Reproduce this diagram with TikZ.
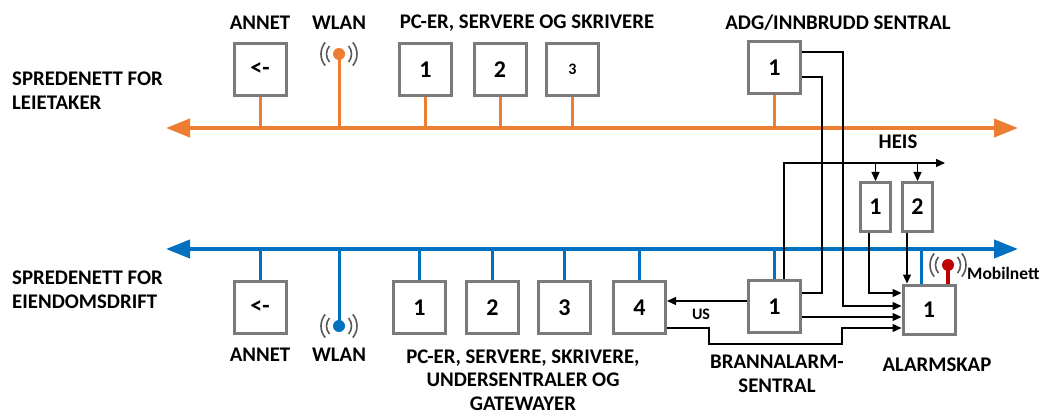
\documentclass[tikz,border=0pt]{standalone}
\usepackage{fontspec}
\setmainfont{Carlito}
\usetikzlibrary{arrows.meta}
\definecolor{orgC}{HTML}{ED7D31}
\definecolor{bluC}{HTML}{0070C0}
\definecolor{redC}{HTML}{C00000}
\definecolor{boxG}{HTML}{7A7A7A}
\definecolor{waveG}{HTML}{595959}
\begin{document}
\begin{tikzpicture}[x=1pt,y=-1pt,
  devbox/.style={draw=boxG, line width=3pt, fill=white, minimum width=52pt, minimum height=52pt, inner sep=0pt, font=\fontsize{24}{26}\selectfont\bfseries},
  hbox/.style={devbox, minimum width=30.5pt, minimum height=49pt},
  lbl/.style={font=\fontsize{20.8}{24.5}\selectfont\bfseries, inner sep=0pt, align=center},
  obus/.style={draw=orgC, line width=4pt, {Triangle[length=24pt,width=18pt]}-{Triangle[length=24pt,width=18pt]}},
  bbus/.style={draw=bluC, line width=4pt, {Triangle[length=24pt,width=18pt]}-{Triangle[length=24pt,width=18pt]}},
  ostub/.style={draw=orgC, line width=3pt},
  bstub/.style={draw=bluC, line width=3pt},
  conn/.style={draw=black, line width=1.3pt},
  arr/.style={conn, -{Triangle[length=9pt,width=8pt]}},
  wave/.style={draw=waveG, line width=1.6pt},
  wifi/.pic={
    \draw[wave] (-40:12.5pt) arc[start angle=-40,end angle=40,radius=12.5pt];
    \draw[wave] (-40:18pt) arc[start angle=-40,end angle=40,radius=18pt];
    \draw[wave] (140:12.5pt) arc[start angle=140,end angle=220,radius=12.5pt];
    \draw[wave] (140:18pt) arc[start angle=140,end angle=220,radius=18pt];
  }]
\useasboundingbox (0,0) rectangle (1041,414);

% buses
\coordinate (oL) at (166,128);
\coordinate (oR) at (1018,128);
\coordinate (bL) at (166,249);
\coordinate (bR) at (1018,249);

% side labels
\node[lbl, anchor=west, align=left] (lt) at (12,90.5) {SPREDENETT FOR\\LEIETAKER};
\node[lbl, anchor=west, align=left] (le) at (12,290) {SPREDENETT FOR\\EIENDOMSDRIFT};

% top devices
\node[devbox] (ta) at (260,69.5) {<-};
\node[devbox] (t1) at (425.5,69.5) {1};
\node[devbox] (t2) at (500,69.5) {2};
\node[devbox, font=\fontsize{16}{20}\selectfont\bfseries] (t3) at (572.5,69.5) {3};
\node[devbox] (adg) at (774.5,67.5) {1};
\coordinate (twlan) at (339,54);

\node[lbl] (tal) at (260,23) {ANNET};
\node[lbl] (twl) at (339,23) {WLAN};
\node[lbl] (tpc) at (527,23) {PC-ER, SERVERE OG SKRIVERE};
\node[lbl] (tadg) at (838,23) {ADG/INNBRUDD SENTRAL};

\foreach \n in {ta,t1,t2,t3,adg} \draw[ostub] (\n.south) -- (\n.south |- oL);
\draw[ostub] (twlan) -- (twlan |- oL);
\fill[orgC] (twlan) circle (6pt);
\pic at (twlan) {wifi};
\draw[obus] (oL) -- (oR);

% bottom devices
\node[devbox] (ba) at (260,307) {<-};
\node[devbox] (b1) at (419.5,307.5) {1};
\node[devbox] (b2) at (492.5,307.5) {2};
\node[devbox] (b3) at (564.5,307.5) {3};
\node[devbox] (b4) at (639.5,307.5) {4};
\node[devbox] (brann) at (774.5,306.5) {1};
\node[devbox, minimum height=49pt] (alarm) at (929,309.5) {1};
\node[hbox] (heis1) at (875.5,207) {1};
\node[hbox] (heis2) at (917.5,207) {2};
\coordinate (bwlan) at (339,326);

\node[lbl] (bal) at (260,355) {ANNET};
\node[lbl] (bwl) at (339,355) {WLAN};
\node[lbl, font=\fontsize{20.8}{23.5}\selectfont\bfseries] (bpc) at (523,380) {PC-ER, SERVERE, SKRIVERE,\\UNDERSENTRALER OG\\GATEWAYER};
\node[lbl] (bbr) at (777,374) {BRANNALARM-\\SENTRAL};
\node[lbl] (bak) at (937,365) {ALARMSKAP};
\node[lbl] (heis) at (898,142) {HEIS};
\node[lbl, font=\fontsize{16}{18}\selectfont\bfseries] (us) at (701,314) {US};

\foreach \n in {ba,b1,b2,b3,b4,brann} \draw[bstub] (\n.north) -- (\n.north |- bL);
\draw[bstub] ([xshift=-8pt]alarm.north) -- ([xshift=-8pt]alarm.north |- bL);
\draw[bstub] (bwlan) -- (bwlan |- bL);
\fill[bluC] (bwlan) circle (6pt);
\pic at (bwlan) {wifi};
\draw[bbus] (bL) -- (bR);

% mobile antenna
\coordinate (mant) at (948,265);
\draw[redC, line width=3.5pt] (mant) -- (mant |- alarm.north);
\fill[redC] (mant) circle (6pt);
\pic at (mant) {wifi};
\node[lbl, anchor=west, font=\fontsize{17.5}{20}\selectfont\bfseries] (mob) at (967,273) {Mobilnett};

% connectors
\coordinate (hR) at (945,163);
\draw[arr] ([xshift=9.5pt]brann.north) |- (hR);
\draw[arr] (heis1.north |- hR) -- (heis1.north);
\draw[arr] (heis2.north |- hR) -- (heis2.north);

\coordinate (c1) at (843,306);
\draw[arr] ([yshift=15.5pt]adg.east) -| (c1) -- (c1 -| alarm.west);
\coordinate (c2) at (822,293);
\draw[conn] ([yshift=-9.5pt]adg.east) -| (c2) -- (c2 -| brann.east);
\coordinate (c4) at (869,293);
\draw[arr] ([xshift=-6.5pt]heis1.south) -- (c4) -- (c4 -| alarm.west);
\draw[arr] ([xshift=-10.5pt]heis2.south) -- ([xshift=-10.5pt]heis2.south |- alarm.north);
\coordinate (c6) at (802,317);
\draw[arr] (c6 -| brann.east) -- (c6 -| alarm.west);
\coordinate (c7a) at (709,344);
\coordinate (c7b) at (842,328);
\draw[arr] (c7b -| b4.east) -| (c7a) -| (c7b) -- (c7b -| alarm.west);
\coordinate (c8) at (700,301);
\draw[arr] (c8 -| brann.west) -- (c8 -| b4.east);
\end{tikzpicture}
\end{document}
